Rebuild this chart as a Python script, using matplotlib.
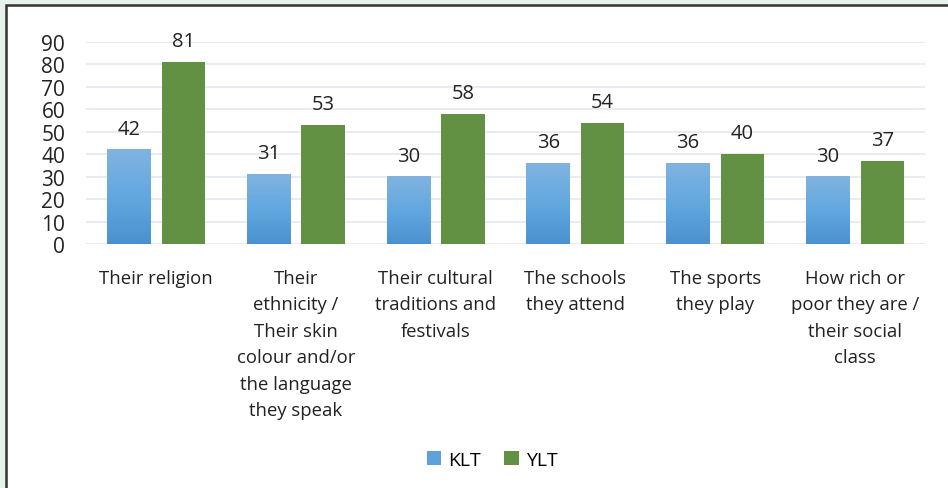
import matplotlib.pyplot as plt
import numpy as np
from matplotlib.patches import Rectangle
from matplotlib.colors import LinearSegmentedColormap

categories = ['Their religion',
              'Their\nethnicity /\nTheir skin\ncolour and/or\nthe language\nthey speak',
              'Their cultural\ntraditions and\nfestivals',
              'The schools\nthey attend',
              'The sports\nthey play',
              'How rich or\npoor they are /\ntheir social\nclass']
klt = [42, 31, 30, 36, 36, 30]
ylt = [81, 53, 58, 54, 40, 37]

plt.rcParams['font.family'] = ['Open Sans', 'DejaVu Sans']

fig = plt.figure(figsize=(9.48, 4.89), dpi=100, facecolor='#e6f2ea')
# white panel with dark frame
fig.patches.append(Rectangle((6 / 948, -0.05), 1.0, 1 - 6 / 489 + 0.05,
                             transform=fig.transFigure, facecolor='white',
                             edgecolor='#333333', linewidth=1.8, zorder=-5))

ax = fig.add_axes([86 / 948, 1 - 245 / 489, (925 - 86) / 948, (245 - 43) / 489])
ax.set_zorder(2)
ax.set_facecolor('none')

x = np.arange(len(categories))
w = 0.31
off = 0.195
b1 = ax.bar(x - off, klt, w, color='#5fa2da', zorder=2, label='KLT')
b2 = ax.bar(x + off, ylt, w, color='#629143', zorder=2, label='YLT')

# gradient on KLT bars
grad = np.linspace(0, 1, 100).reshape(-1, 1)
cmap = LinearSegmentedColormap.from_list('blu', ['#4a92cf', '#62a8e0', '#80b3e0'])
for r in b1:
    ax.imshow(grad, extent=(r.get_x(), r.get_x() + r.get_width(), 0, r.get_height()),
              origin='lower', cmap=cmap, aspect='auto', zorder=3)

for bars, vals in ((b1, klt), (b2, ylt)):
    for r, v in zip(bars, vals):
        ax.annotate(str(v), (r.get_x() + r.get_width() / 2, v), xytext=(0, 8),
                    textcoords='offset points', ha='center', va='bottom',
                    fontsize=14.5, color='#222222')

ax.set_xlim(-0.5, len(categories) - 0.5)
ax.set_ylim(0, 90)
ax.set_yticks(range(0, 91, 10))
ax.tick_params(axis='y', length=0, labelsize=15, pad=15, labelcolor='#222222')
ax.set_xticks(x)
ax.set_xticklabels(categories, fontsize=13.3, color='#222222', linespacing=1.6)
ax.tick_params(axis='x', length=0, pad=18)
ax.grid(axis='y', color='#e4e8f2', linewidth=1.2, zorder=0)
for s in ax.spines.values():
    s.set_visible(False)

ax.legend(loc='center', bbox_to_anchor=(0.484, -1.07), ncol=2, frameon=False,
          fontsize=14, handlelength=0.75, handleheight=0.75, handletextpad=0.35,
          columnspacing=1.2)

fig.savefig('out.png', dpi=100, facecolor=fig.get_facecolor())
